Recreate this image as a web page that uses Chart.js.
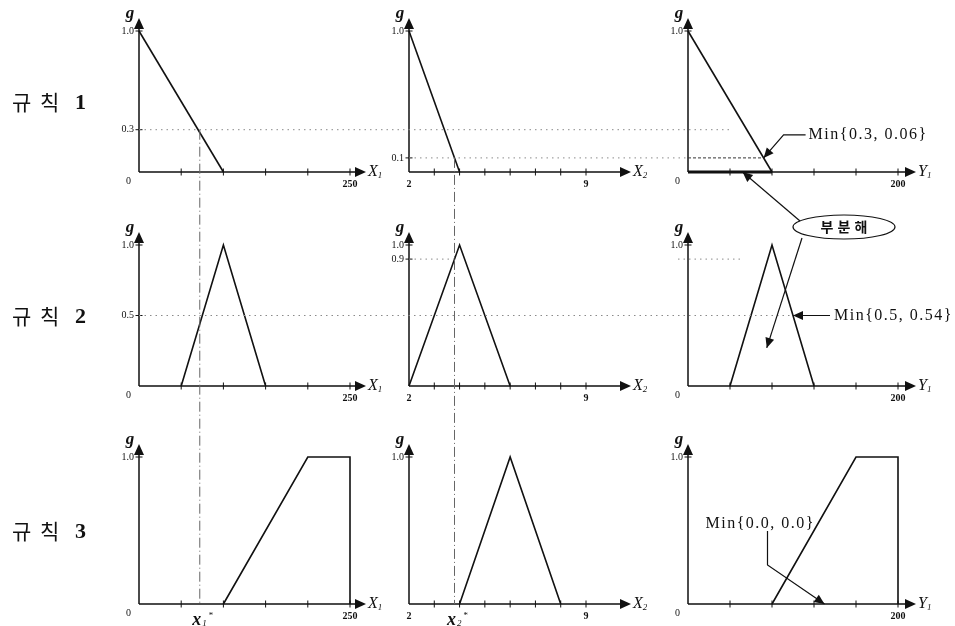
<!DOCTYPE html>
<html lang="ko">
<head>
<meta charset="utf-8">
<title>규칙별 소속함수</title>
<script src="https://cdn.jsdelivr.net/npm/chart.js@4.4.1/dist/chart.umd.min.js"></script>
<style>
  body { margin: 0; background: #fff; }
  #wrap { position: relative; width: 955px; height: 626px; overflow: hidden; }
  #wrap canvas { position: absolute; }
  #overlay { left: 0; top: 0; z-index: 2; pointer-events: none; }
</style>
</head>
<body>
<div id="wrap"><canvas id="overlay" width="955" height="626"></canvas></div>
<script>
// variables: X1, X2 (inputs) and Y1 (output)
let ruleNames = ["1", "2", "3"]
let varNames = ["X", "X", "Y"]
let varSubs = ["1", "2", "1"]
let axisRange = [[0, 250], [2, 9], [0, 200]]
let x1Ticks = [0, 50, 100, 150, 200, 250]
let x2Ticks = [2, 3, 4, 5, 6, 7, 8, 9]
let y1Ticks = [0, 40, 80, 120, 160, 200]
let endLabels = [[250], [2, 9], [200]]

// membership functions, one per rule (breakpoints and grades)
let x1Pts = [[0, 100], [50, 100, 150], [100, 200, 250, 250]]
let x1Deg = [[1, 0], [0, 1, 0], [0, 1, 1, 0]]
let x2Pts = [[2, 4], [2, 4, 6], [4, 6, 8]]
let x2Deg = [[1, 0], [0, 1, 0], [0, 1, 0]]
let y1Pts = [[0, 80], [40, 80, 120], [80, 160, 200, 200]]
let y1Deg = [[1, 0], [0, 1, 0], [0, 1, 1, 0]]

// grade labels on each g axis, [rule][variable]
let gLabels = [
    [[0, 0.3, 1], [0.1, 1], [0, 1]],
    [[0, 0.5, 1], [0.9, 1], [0, 1]],
    [[0, 1], [1], [0, 1]]
]

// crisp inputs and the grades they fire
let x1Star = 72
let x2Star = 3.8
let x1Grade = [0.3, 0.5, 0.0]
let x2Grade = [0.1, 0.9, 0.0]
let minLabels = ["Min{0.3, 0.06}", "Min{0.5, 0.54}", "Min{0.0, 0.0}"]

let shapes = [[x1Pts, x1Deg], [x2Pts, x2Deg], [y1Pts, y1Deg]]
let axisTicks = [x1Ticks, x2Ticks, y1Ticks]

// page layout of the 3x3 grid
let colLeft = [139, 409, 688]
let colWidth = [211, 177, 210]
let colArrow = [16, 45, 18]
let rowTop = [31, 245, 457]
let rowBase = [172, 386, 604]

let wrap = document.getElementById("wrap")
let overlay = document.getElementById("overlay")
let panels = [[], [], []]

function head(ctx, x, y, dx, dy, len, half) {
    len = len || 11
    half = half || 5
    let nx = -dy, ny = dx
    ctx.beginPath()
    ctx.moveTo(x, y)
    ctx.lineTo(x - dx * len + nx * half, y - dy * len + ny * half)
    ctx.lineTo(x - dx * len - nx * half, y - dy * len - ny * half)
    ctx.closePath()
    ctx.fill()
}

function arrowLine(ctx, pts) {
    ctx.beginPath()
    ctx.moveTo(pts[0][0], pts[0][1])
    for (let i = 1; i < pts.length; i++) ctx.lineTo(pts[i][0], pts[i][1])
    ctx.stroke()
    let a = pts[pts.length - 2], b = pts[pts.length - 1]
    let d = Math.hypot(b[0] - a[0], b[1] - a[1])
    head(ctx, b[0], b[1], (b[0] - a[0]) / d, (b[1] - a[1]) / d, 10, 4.5)
}

// x where segment i of a membership function reaches grade g
function crossing(pts, deg, i, g) {
    let t = (g - deg[i]) / (deg[i + 1] - deg[i])
    return pts[i] + t * (pts[i + 1] - pts[i])
}

function axesPlugin(r, c) {
    return {
        id: "axes" + r + c,
        beforeDatasetsDraw(chart) {
            let ctx = chart.ctx, xs = chart.scales.x, ys = chart.scales.y
            let ox = xs.getPixelForValue(axisRange[c][0])
            let oy = ys.getPixelForValue(0)
            let top = ys.getPixelForValue(1)
            let tipX = xs.getPixelForValue(axisRange[c][1]) + colArrow[c]
            let tipY = top - 13
            ctx.save()
            ctx.strokeStyle = "#111"
            ctx.fillStyle = "#111"
            ctx.lineWidth = 1.5
            ctx.beginPath()
            ctx.moveTo(ox, oy); ctx.lineTo(tipX - 9, oy)
            ctx.moveTo(ox, oy); ctx.lineTo(ox, tipY + 9)
            ctx.stroke()
            head(ctx, tipX, oy, 1, 0)
            head(ctx, ox, tipY, 0, -1)

            // small crosses on the axes
            ctx.lineWidth = 1
            ctx.beginPath()
            axisTicks[c].forEach(v => {
                if (v === axisRange[c][0]) return
                let x = xs.getPixelForValue(v)
                ctx.moveTo(x, oy - 3.5); ctx.lineTo(x, oy + 3.5)
            })
            gLabels[r][c].forEach(v => {
                if (v === 0) return
                let y = ys.getPixelForValue(v)
                ctx.moveTo(ox - 3.5, y); ctx.lineTo(ox + 3.5, y)
            })
            ctx.stroke()

            ctx.textBaseline = "middle"
            ctx.textAlign = "right"
            ctx.font = "10px 'Liberation Serif'"
            gLabels[r][c].forEach(v => {
                if (v === 0) ctx.fillText("0", ox - 8, oy + 9)
                else ctx.fillText(v.toFixed(1), ox - 5, ys.getPixelForValue(v))
            })
            ctx.textAlign = "center"
            ctx.font = "bold 10px 'Liberation Serif'"
            endLabels[c].forEach(v => ctx.fillText(String(v), xs.getPixelForValue(v), oy + 12))

            ctx.font = "italic bold 17px 'Liberation Serif'"
            ctx.fillText("g", ox - 9, top - 17)

            ctx.textAlign = "left"
            ctx.font = "italic 16px 'Liberation Serif'"
            ctx.fillText(varNames[c], tipX + 2, oy)
            let wX = ctx.measureText(varNames[c]).width
            ctx.font = "italic 9px 'Liberation Serif'"
            ctx.fillText(varSubs[c], tipX + 2 + wX, oy + 4)
            ctx.restore()
        }
    }
}

function makePanel(r, c) {
    let pad = { left: 50, top: 30, right: 70, bottom: 34 }
    let w = colWidth[c] + pad.left + pad.right
    let h = rowBase[r] - rowTop[r] + pad.top + pad.bottom
    let left = colLeft[c] - pad.left, top = rowTop[r] - pad.top
    let cv = document.createElement("canvas")
    cv.width = w
    cv.height = h
    cv.style.left = left + "px"
    cv.style.top = top + "px"
    wrap.insertBefore(cv, overlay)

    let pts = shapes[c][0][r], deg = shapes[c][1][r]
    let datasets = [{
        data: pts.map((x, i) => ({ x: x, y: deg[i] })),
        showLine: true,
        borderColor: "#111",
        borderWidth: 1.6,
        pointRadius: 0,
        fill: false,
        clip: false
    }]
    if (r === 0 && c === 2) {
        // rule 1 output support, drawn heavy along the axis
        datasets.push({
            data: [{ x: pts[0], y: 0 }, { x: pts[pts.length - 1], y: 0 }],
            showLine: true,
            borderColor: "#111",
            borderWidth: 3,
            pointRadius: 0,
            clip: false
        })
    }

    let chart = new Chart(cv, {
        type: "scatter",
        data: { datasets: datasets },
        options: {
            responsive: false,
            animation: false,
            devicePixelRatio: 1,
            layout: { padding: pad },
            scales: {
                x: { type: "linear", min: axisRange[c][0], max: axisRange[c][1], display: false },
                y: { type: "linear", min: 0, max: 1, display: false }
            },
            plugins: { legend: { display: false }, tooltip: { enabled: false } },
            elements: { line: { tension: 0 } }
        },
        plugins: [axesPlugin(r, c)]
    })
    panels[r][c] = { chart: chart, left: left, top: top }
}

for (let r = 0; r < 3; r++) for (let c = 0; c < 3; c++) makePanel(r, c)

function px(p, v) { return p.left + p.chart.scales.x.getPixelForValue(v) }
function py(p, v) { return p.top + p.chart.scales.y.getPixelForValue(v) }

function drawOverlay() {
    let ctx = overlay.getContext("2d")
    let P = (r, c) => panels[r][c]

    // rule titles
    ctx.fillStyle = "#111"
    ctx.textBaseline = "middle"
    ctx.textAlign = "left"
    for (let r = 0; r < 3; r++) {
        let y = (rowTop[r] + rowBase[r]) / 2 + 1
        ctx.font = "21px 'Noto Sans CJK KR'"
        ctx.fillText("규", 12, y)
        ctx.fillText("칙", 40, y)
        ctx.font = "bold 22px 'Liberation Serif'"
        ctx.fillText(ruleNames[r], 75, y + 1)
    }

    // grade levels, dotted
    ctx.strokeStyle = "#8a8a8a"
    ctx.lineWidth = 1
    ctx.setLineDash([1.5, 4])
    let hline = (x1, x2, y) => { ctx.beginPath(); ctx.moveTo(x1, y); ctx.lineTo(x2, y); ctx.stroke() }
    hline(px(P(0, 0), 0), px(P(0, 2), 40), py(P(0, 0), x1Grade[0]))
    hline(px(P(0, 1), 2), px(P(0, 2), 0), py(P(0, 1), x2Grade[0]))
    hline(px(P(1, 0), 0), px(P(1, 2), crossing(y1Pts[1], y1Deg[1], 1, x1Grade[1])), py(P(1, 0), x1Grade[1]))
    hline(px(P(1, 1), 2), px(P(1, 1), x2Star), py(P(1, 1), x2Grade[1]))
    hline(px(P(1, 2), 0) - 10, px(P(1, 2), 52), py(P(1, 2), x2Grade[1]))

    // rule 1 cut on the output, dashed
    let cut1 = crossing(y1Pts[0], y1Deg[0], 0, x2Grade[0])
    ctx.strokeStyle = "#333"
    ctx.setLineDash([3, 2])
    hline(px(P(0, 2), 0), px(P(0, 2), cut1), py(P(0, 2), x2Grade[0]))

    // crisp input guides, dash-dot
    ctx.strokeStyle = "#666"
    ctx.setLineDash([10, 3, 1, 3])
    let vline = (x, y1, y2) => { ctx.beginPath(); ctx.moveTo(x, y1); ctx.lineTo(x, y2); ctx.stroke() }
    vline(px(P(0, 0), x1Star), py(P(0, 0), x1Grade[0]), py(P(2, 0), 0))
    vline(px(P(0, 1), x2Star), py(P(0, 1), x2Grade[0]), py(P(2, 1), 0))
    ctx.setLineDash([])

    // x1*, x2* under the bottom row
    let starLabel = (x, y, sub) => {
        ctx.textAlign = "left"
        ctx.font = "italic bold 18px 'Liberation Serif'"
        let w = ctx.measureText("x").width
        let x0 = x - w / 2 - 3
        ctx.fillText("x", x0, y)
        ctx.font = "italic 9px 'Liberation Serif'"
        ctx.fillText(sub, x0 + w + 1, y + 4)
        ctx.fillText("*", x0 + w + 7, y - 4)
    }
    starLabel(px(P(2, 0), x1Star), py(P(2, 0), 0) + 16, "1")
    starLabel(px(P(2, 1), x2Star), py(P(2, 1), 0) + 16, "2")

    // Min{...} callouts
    ctx.strokeStyle = "#111"
    ctx.fillStyle = "#111"
    ctx.lineWidth = 1.2
    ctx.font = "16px 'Liberation Serif'"
    ctx.letterSpacing = "1.5px"
    ctx.textAlign = "left"

    let t1 = [px(P(0, 2), cut1), py(P(0, 2), x2Grade[0])]
    arrowLine(ctx, [[t1[0] + 42, t1[1] - 23], [t1[0] + 20, t1[1] - 23], t1])
    ctx.fillText(minLabels[0], t1[0] + 45, t1[1] - 23)

    let cut2 = crossing(y1Pts[1], y1Deg[1], 1, x1Grade[1])
    let t2 = [px(P(1, 2), cut2), py(P(1, 2), x1Grade[1])]
    arrowLine(ctx, [[t2[0] + 37, t2[1]], t2])
    ctx.fillText(minLabels[1], t2[0] + 41, t2[1])

    let t3 = [px(P(2, 2), 130), py(P(2, 2), 0)]
    arrowLine(ctx, [[t3[0] - 57, t3[1] - 73], [t3[0] - 57, t3[1] - 39], t3])
    ctx.fillText(minLabels[2], t3[0] - 119, t3[1] - 80)
    ctx.letterSpacing = "0px"

    // 부분해 bubble with its two pointers
    let ex = 844, ey = 227
    ctx.beginPath()
    ctx.ellipse(ex, ey, 51, 12, 0, 0, Math.PI * 2)
    ctx.fillStyle = "#fff"
    ctx.fill()
    ctx.stroke()
    ctx.fillStyle = "#111"
    ctx.font = "bold 14px 'Noto Sans CJK KR'"
    ctx.textAlign = "center"
    ctx.fillText("부", ex - 17, ey)
    ctx.fillText("분", ex, ey)
    ctx.fillText("해", ex + 17, ey)
    arrowLine(ctx, [[ex - 44, ey - 6], [px(P(0, 2), 52), py(P(0, 2), 0)]])
    arrowLine(ctx, [[ex - 42, ey + 11], [px(P(1, 2), 75), py(P(1, 2), 0.27)]])
}

drawOverlay()
</script>
</body>
</html>
